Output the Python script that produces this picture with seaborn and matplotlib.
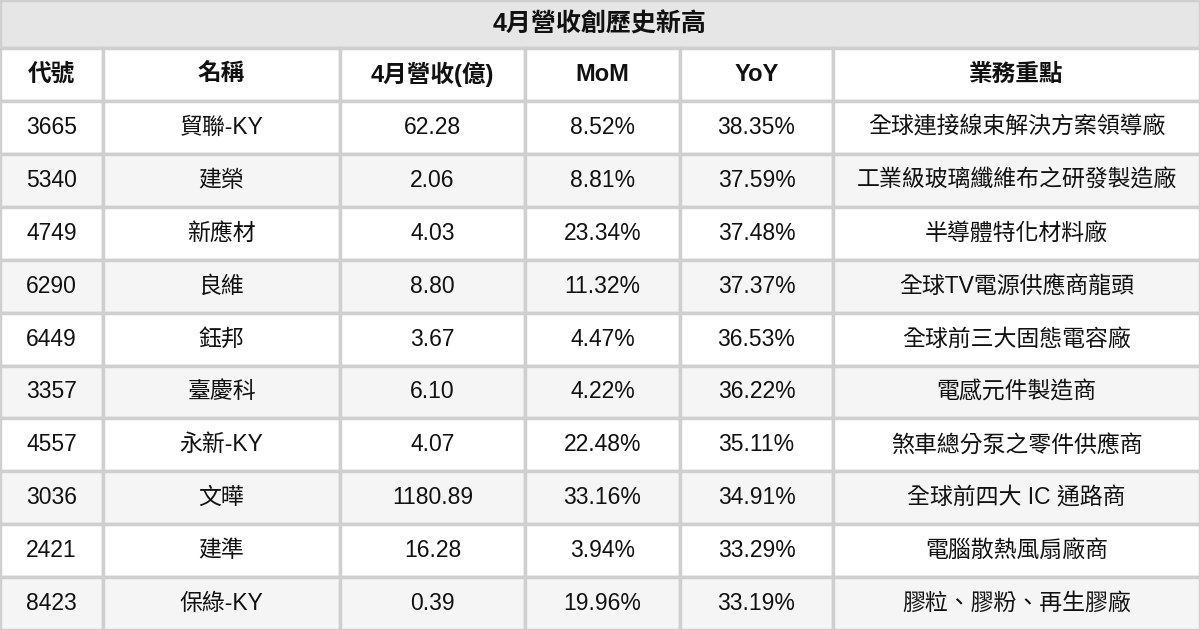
import matplotlib
matplotlib.use("Agg")
import matplotlib.pyplot as plt
from matplotlib.patches import Rectangle
import seaborn as sns

sns.set_theme(style="white")
plt.rcParams["font.family"] = ["Liberation Sans", "Noto Sans CJK TC"]

title = "4月營收創歷史新高"
headers = ["代號", "名稱", "4月營收(億)", "MoM", "YoY", "業務重點"]
codes = ["3665", "5340", "4749", "6290", "6449", "3357", "4557", "3036", "2421", "8423"]
names = ["貿聯-KY", "建榮", "新應材", "良維", "鈺邦", "臺慶科", "永新-KY", "文曄", "建準", "保綠-KY"]
revenue = [62.28, 2.06, 4.03, 8.80, 3.67, 6.10, 4.07, 1180.89, 16.28, 0.39]
mom = [8.52, 8.81, 23.34, 11.32, 4.47, 4.22, 22.48, 33.16, 3.94, 19.96]
yoy = [38.35, 37.59, 37.48, 37.37, 36.53, 36.22, 35.11, 34.91, 33.29, 33.19]
business = ["全球連接線束解決方案領導廠", "工業級玻璃纖維布之研發製造廠", "半導體特化材料廠",
            "全球TV電源供應商龍頭", "全球前三大固態電容廠", "電感元件製造商",
            "煞車總分泵之零件供應商", "全球前四大 IC 通路商", "電腦散熱風扇廠商", "膠粒、膠粉、再生膠廠"]

col_edges = [0, 103, 340, 525, 680, 833, 1200]
title_h = 48
header_top, header_h = 48, 53
row_h = (630 - 101) / len(codes)
border = "#cfcfcf"

fig = plt.figure(figsize=(12, 6.3), dpi=100)
ax = fig.add_axes([0, 0, 1, 1])
ax.set_xlim(0, 1200)
ax.set_ylim(630, 0)
ax.axis("off")

ax.add_patch(Rectangle((0, 0), 1200, title_h, facecolor="#e6e6e6", edgecolor=border, lw=2.5))
ax.text(600, title_h / 2, title, ha="center", va="center", fontsize=18, fontweight="bold", color="#111")

def row(y, h, vals, bg, bold=False):
    for i, v in enumerate(vals):
        x0, x1 = col_edges[i], col_edges[i + 1]
        ax.add_patch(Rectangle((x0, y), x1 - x0, h, facecolor=bg, edgecolor=border, lw=2.5))
        ax.text((x0 + x1) / 2, y + h / 2, v, ha="center", va="center",
                fontsize=17 if bold else 16.5, fontweight="bold" if bold else "normal", color="#111")

row(header_top, header_h, headers, "white", bold=True)
for k in range(len(codes)):
    vals = [codes[k], names[k], f"{revenue[k]:.2f}", f"{mom[k]:.2f}%", f"{yoy[k]:.2f}%", business[k]]
    row(101 + k * row_h, row_h, vals, "white" if k % 2 == 0 else "#f5f5f5")

fig.savefig("out.png", dpi=100)
